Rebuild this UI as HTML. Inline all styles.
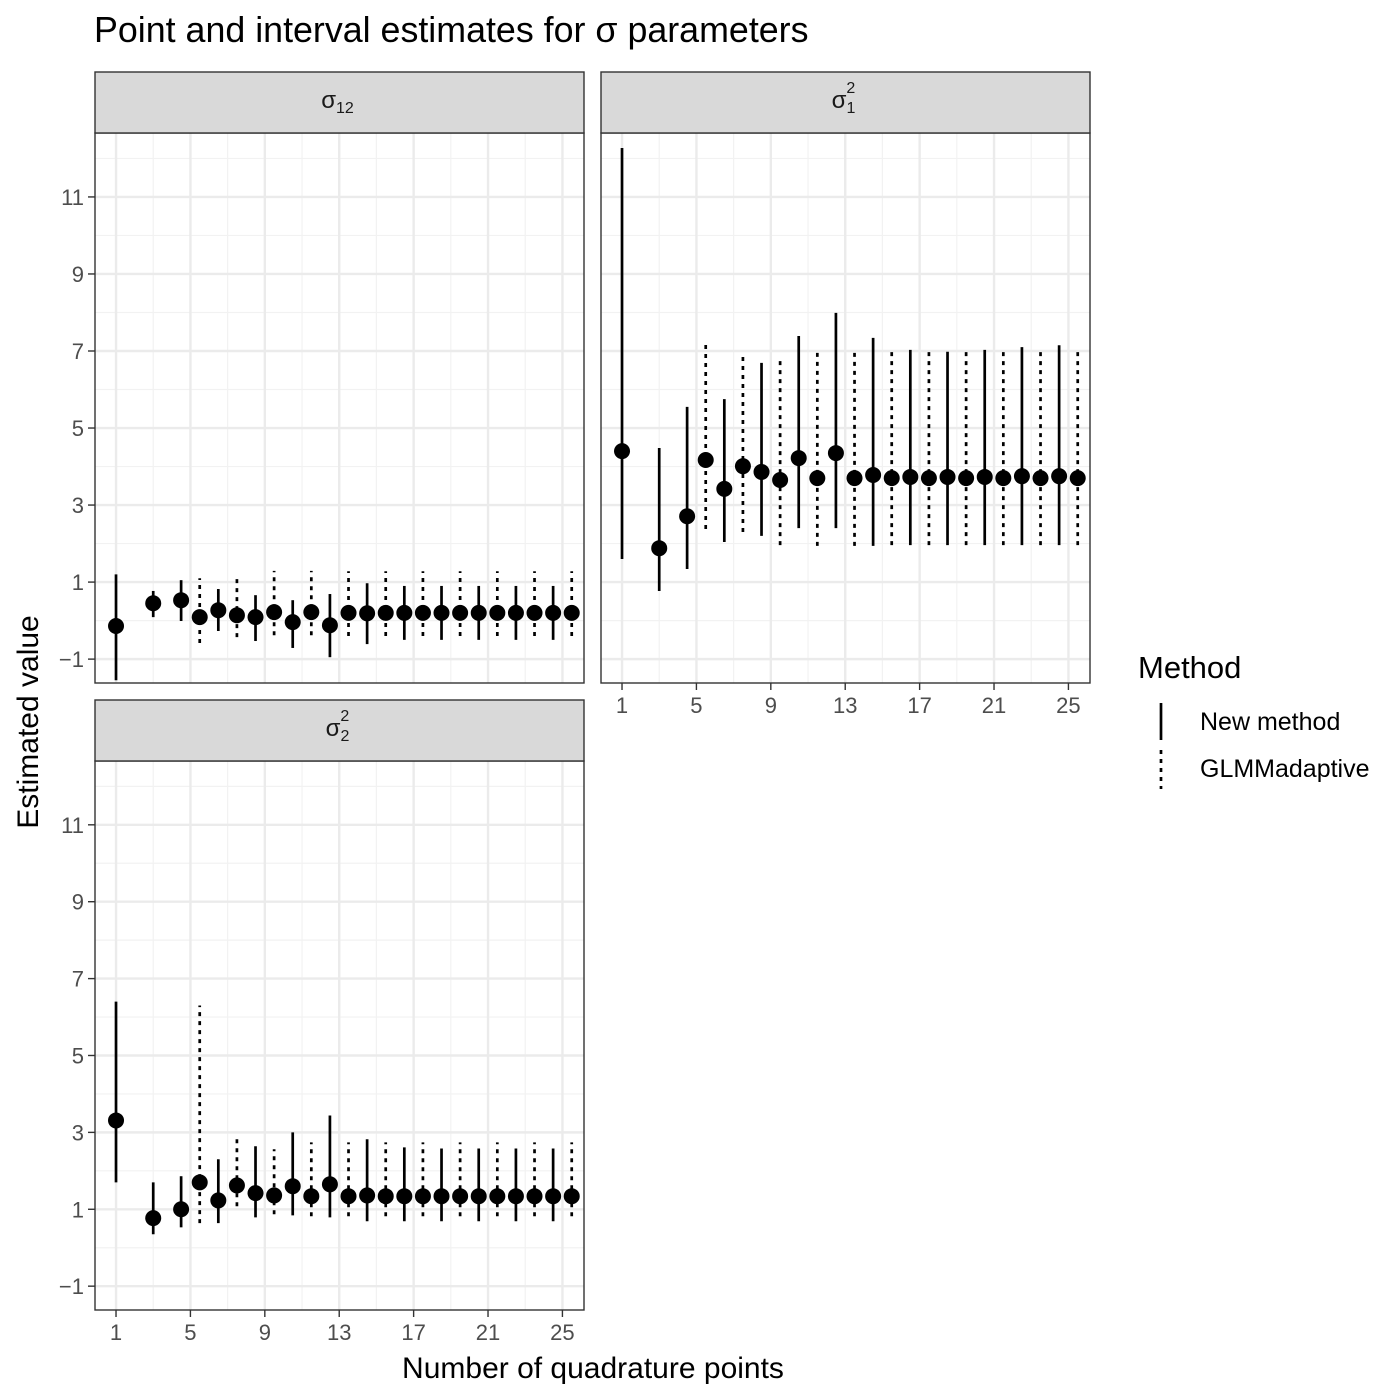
<!DOCTYPE html>
<html><head><meta charset="utf-8"><style>
html,body{margin:0;padding:0;background:#fff;}
svg{display:block;font-family:"Liberation Sans",sans-serif;}
</style></head><body>
<svg id="chart" width="1400" height="1400" viewBox="0 0 1400 1400"></svg>
<script>
const quad = [1,3,5,7,9,11,13,15,17,19,21,23,25];
const quadGlmm = [5,7,9,11,13,15,17,19,21,23,25];
const xTicks = [1,5,9,13,17,21,25];
const yTicks = [-1,1,3,5,7,9,11];
// sigma12
const s12NewEst = [-0.14,0.45,0.53,0.27,0.09,-0.04,-0.12,0.19,0.2,0.2,0.2,0.2,0.2];
const s12NewLo  = [-1.55,0.09,-0.01,-0.27,-0.53,-0.71,-0.95,-0.61,-0.5,-0.5,-0.5,-0.5,-0.5];
const s12NewHi  = [1.2,0.77,1.05,0.82,0.66,0.53,0.69,0.97,0.9,0.9,0.9,0.9,0.9];
const s12GlmEst = [0.09,0.14,0.22,0.22,0.2,0.2,0.2,0.2,0.2,0.2,0.2];
const s12GlmLo  = [-0.58,-0.43,-0.38,-0.38,-0.4,-0.4,-0.4,-0.4,-0.4,-0.4,-0.4];
const s12GlmHi  = [1.1,1.16,1.29,1.29,1.28,1.28,1.28,1.28,1.28,1.28,1.28];
// sigma1^2
const s1NewEst = [4.4,1.88,2.71,3.42,3.86,4.22,4.35,3.78,3.73,3.73,3.73,3.75,3.75];
const s1NewLo  = [1.6,0.77,1.34,2.04,2.2,2.4,2.4,1.94,1.96,1.96,1.96,1.96,1.96];
const s1NewHi  = [12.27,4.48,5.55,5.75,6.69,7.39,7.99,7.34,7.03,6.98,7.03,7.1,7.15];
const s1GlmEst = [4.17,4.01,3.65,3.7,3.7,3.7,3.7,3.7,3.7,3.7,3.7];
const s1GlmLo  = [2.38,2.3,1.96,1.94,1.94,1.96,1.96,1.96,1.96,1.96,1.96];
const s1GlmHi  = [7.16,6.97,6.74,7.03,7.03,7.03,7.03,7.03,7.03,7.03,7.03];
// sigma2^2
const s2NewEst = [3.31,0.77,1.0,1.23,1.42,1.6,1.65,1.36,1.34,1.34,1.34,1.34,1.34];
const s2NewLo  = [1.7,0.35,0.53,0.64,0.79,0.84,0.79,0.69,0.69,0.69,0.69,0.69,0.69];
const s2NewHi  = [6.4,1.7,1.86,2.3,2.64,3.0,3.44,2.82,2.61,2.58,2.58,2.58,2.58];
const s2GlmEst = [1.7,1.62,1.36,1.34,1.34,1.34,1.34,1.34,1.34,1.34,1.34];
const s2GlmLo  = [0.64,1.08,0.87,0.82,0.82,0.82,0.82,0.82,0.82,0.82,0.82];
const s2GlmHi  = [6.3,2.92,2.56,2.74,2.74,2.74,2.74,2.74,2.74,2.74,2.74];

const NS='http://www.w3.org/2000/svg';
const svg=document.getElementById('chart');
function mk(tag,attrs,parent){const e=document.createElementNS(NS,tag);for(const k in attrs)e.setAttribute(k,attrs[k]);(parent||svg).appendChild(e);return e;}

const xMin=-0.13,xMax=26.16,yMin=-1.62,yMax=12.66;
const panels=[
 {name:'sigma12',x:95,y:133,w:489,h:550,label:'σ',sub:'12',sup:'',ne:s12NewEst,nl:s12NewLo,nh:s12NewHi,ge:s12GlmEst,gl:s12GlmLo,gh:s12GlmHi,yAxis:true,xAxis:false},
 {name:'sigma1sq',x:601,y:133,w:489,h:550,label:'σ',sub:'1',sup:'2',ne:s1NewEst,nl:s1NewLo,nh:s1NewHi,ge:s1GlmEst,gl:s1GlmLo,gh:s1GlmHi,yAxis:false,xAxis:true},
 {name:'sigma2sq',x:95,y:761,w:489,h:549,label:'σ',sub:'2',sup:'2',ne:s2NewEst,nl:s2NewLo,nh:s2NewHi,ge:s2GlmEst,gl:s2GlmLo,gh:s2GlmHi,yAxis:true,xAxis:true}
];

panels.forEach(p=>{
  const g=mk('g',{});
  
  
  const sx=v=>p.x+(v-xMin)/(xMax-xMin)*p.w;
  const sy=v=>p.y+(yMax-v)/(yMax-yMin)*p.h;
  mk('rect',{x:p.x,y:p.y,width:p.w,height:p.h,fill:'#fff'},g);
  for(let v=3;v<=23;v+=4){mk('line',{x1:sx(v),x2:sx(v),y1:p.y,y2:p.y+p.h,stroke:'#f2f2f2','stroke-width':1.2},g);}
  for(let v=0;v<=12;v+=2){mk('line',{x1:p.x,x2:p.x+p.w,y1:sy(v),y2:sy(v),stroke:'#f2f2f2','stroke-width':1.2},g);}
  xTicks.forEach(v=>mk('line',{x1:sx(v),x2:sx(v),y1:p.y,y2:p.y+p.h,stroke:'#ebebeb','stroke-width':2.4},g));
  yTicks.forEach(v=>mk('line',{x1:p.x,x2:p.x+p.w,y1:sy(v),y2:sy(v),stroke:'#ebebeb','stroke-width':2.4},g));
  quad.forEach((q,i)=>{
    const xp=quadGlmm.includes(q)?q-0.5:q;
    const l=mk('line',{x1:sx(xp),x2:sx(xp),y1:sy(p.nl[i]),y2:sy(p.nh[i]),stroke:'#000','stroke-width':2.7},g);
    
    
    const c=mk('circle',{cx:sx(xp),cy:sy(p.ne[i]),r:8,fill:'#000'},g);
    
    
  });
  quadGlmm.forEach((q,i)=>{
    const xp=q+0.5;
    const l=mk('line',{x1:sx(xp),x2:sx(xp),y1:sy(p.gl[i]),y2:sy(p.gh[i]),stroke:'#000','stroke-width':2.7,'stroke-dasharray':'4,5'},g);
    
    
    const c=mk('circle',{cx:sx(xp),cy:sy(p.ge[i]),r:8,fill:'#000'},g);
    
    
  });
  mk('rect',{x:p.x,y:p.y,width:p.w,height:p.h,fill:'none',stroke:'#333','stroke-width':1.4},g);
  const sg=mk('g',{},g);
  
  
  mk('rect',{x:p.x,y:p.y-61,width:p.w,height:61,fill:'#d9d9d9',stroke:'#333','stroke-width':1.4},sg);
  const t=mk('text',{x:p.x+p.w/2-2,y:p.y-25,'font-size':24,fill:'#1a1a1a','text-anchor':'middle'},sg);
  t.textContent=p.label;
  const sb=mk('tspan',{'font-size':16,dy:5},t); sb.textContent=p.sub;
  if(p.sup){const sp=mk('tspan',{'font-size':16,dx:-9,dy:-20},t); sp.textContent=p.sup;}
  if(p.yAxis){
    yTicks.forEach(v=>{
      mk('line',{x1:p.x-7,x2:p.x,y1:sy(v),y2:sy(v),stroke:'#333','stroke-width':1.4},g);
      const tt=mk('text',{x:p.x-11,y:sy(v)+8,'font-size':22,fill:'#4d4d4d','text-anchor':'end'},g);
      
      
      tt.textContent=v<0?'\u2212'+Math.abs(v):String(v);
    });
  }
  if(p.xAxis){
    xTicks.forEach(v=>{
      mk('line',{x1:sx(v),x2:sx(v),y1:p.y+p.h,y2:p.y+p.h+7,stroke:'#333','stroke-width':1.4},g);
      const tt=mk('text',{x:sx(v),y:p.y+p.h+30,'font-size':22,fill:'#4d4d4d','text-anchor':'middle'},g);
      
      
      tt.textContent=String(v);
    });
  }
});
</script>
<svg style="position:absolute;left:0;top:0" width="1400" height="1400">
  <text x="94" y="42" font-size="35.8" fill="#000" font-family="Liberation Sans, sans-serif">Point and interval estimates for σ parameters</text>
  <text x="593" y="1378" font-size="30" text-anchor="middle" font-family="Liberation Sans, sans-serif">Number of quadrature points</text>
  <text transform="translate(38,722) rotate(-90)" font-size="30" text-anchor="middle" font-family="Liberation Sans, sans-serif">Estimated value</text>
  <g font-family="Liberation Sans, sans-serif">
    <text x="1138" y="678" font-size="31">Method</text>
    <line x1="1161" x2="1161" y1="703" y2="740" stroke="#000" stroke-width="2.7"/>
    <text x="1200" y="730" font-size="25">New method</text>
    <line x1="1161" x2="1161" y1="750" y2="789" stroke="#000" stroke-width="2.7" stroke-dasharray="4,5"/>
    <text x="1200" y="777" font-size="25">GLMMadaptive</text>
  </g>
</svg>
</body></html>
